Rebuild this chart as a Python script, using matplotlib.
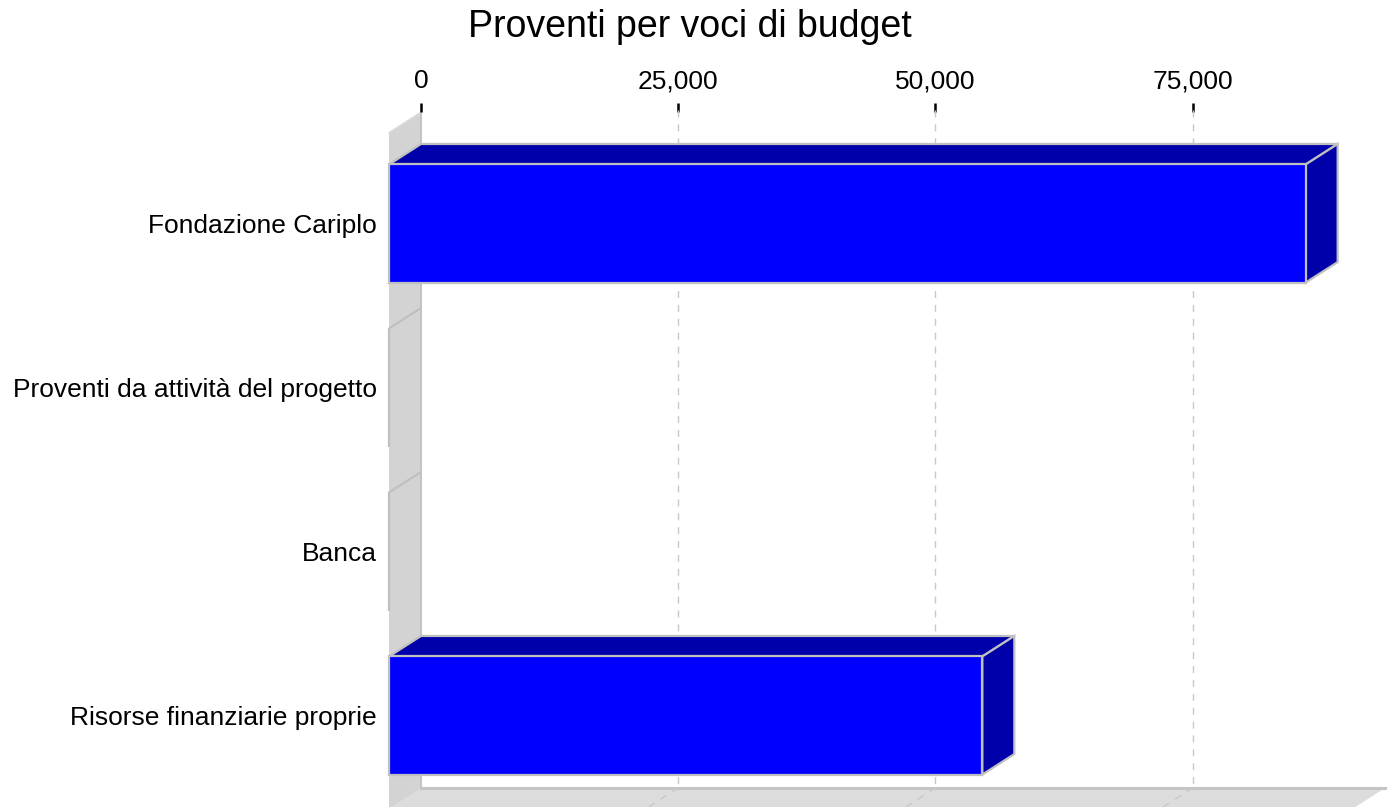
import numpy as np
import matplotlib
matplotlib.use('Agg')
from matplotlib import pyplot as plt
from matplotlib.patches import Polygon, Rectangle

plt.rcParams['font.family'] = ['Liberation Sans', 'DejaVu Sans']

# data
categories = ['Fondazione Cariplo', 'Proventi da attività del progetto', 'Banca', 'Risorse finanziarie proprie']
values = [89100, 0, 0, 57670]
ticks = [0, 25000, 50000, 75000]
title = 'Proventi per voci di budget'

# colours
front_col = '#0000ff'
side_col = '#0000aa'
edge_col = '#c0c0c0'
wall_col = '#d3d3d3'
floor_col = '#dcdcdc'

W, H = 1393, 807
fig = plt.figure(figsize=(W / 100, H / 100), dpi=100)
ax = fig.add_axes([421 / W, 1 - 788 / H, (1385 - 421) / W, (788 - 112) / H])

xmax = 93700
ytop, ybot = -0.555, 3.567
ax.set_xlim(0, xmax)
ax.set_ylim(ybot, ytop)
ax.set_frame_on(False)

# 3d depth offset, in pixels -> data units
px_x = (1385 - 421) / xmax
px_y = (788 - 112) / (ybot - ytop)
dx = -32 / px_x
dy = 20.5 / px_y
bar_h = 0.72

# left wall
ax.add_patch(Polygon([(0, ytop), (0, ybot + 0.5), (dx, ybot + 0.5 + dy), (dx, ytop + dy)],
                     closed=True, facecolor=wall_col, edgecolor='none', zorder=1, clip_on=False))
ax.plot([0, 0], [ytop, ybot], color='#c4c4c4', lw=1.5, zorder=1.5, clip_on=False)
ax.plot([0, dx], [ytop, ytop + dy], color='#dedede', lw=1, zorder=1.5, clip_on=False)

# floor
ax.add_patch(Polygon([(0, ybot), (xmax, ybot), (xmax + dx, ybot + dy), (dx, ybot + dy)],
                     closed=True, facecolor=floor_col, edgecolor='none', zorder=1, clip_on=False))
ax.plot([0, xmax], [ybot, ybot], color='#c4c4c4', lw=2.2, zorder=1.5, clip_on=False)

# grid lines on back wall and floor
for t in ticks[1:]:
    ax.plot([t, t], [ytop - 0.01, ybot], color='#c8c8c8', lw=1, ls=(0, (5, 5)), zorder=2, clip_on=False)
    ax.plot([t, t + dx], [ybot, ybot + dy], color='#c8c8c8', lw=1, ls=(0, (5, 5)), zorder=2, clip_on=False)

# bars (zero bars collapse to lines on the wall)
for i, v in enumerate(values):
    top = i - bar_h / 2
    bot = i + bar_h / 2
    ax.add_patch(Polygon([(dx, top + dy), (v + dx, top + dy), (v, top), (0, top)], closed=True,
                         facecolor=side_col, edgecolor=edge_col, lw=1.6, zorder=3, clip_on=False))
    if v > 0:
        ax.add_patch(Polygon([(v + dx, top + dy), (v, top), (v, bot), (v + dx, bot + dy)], closed=True,
                             facecolor=side_col, edgecolor=edge_col, lw=1.6, zorder=3, clip_on=False))
    ax.add_patch(Rectangle((dx, top + dy), v, bar_h, facecolor=front_col, edgecolor=edge_col,
                           lw=1.6, zorder=4, clip_on=False))

# axes
ax.xaxis.tick_top()
ax.set_xticks(ticks)
ax.set_xticklabels(['{:,}'.format(t) for t in ticks])
ax.tick_params(axis='x', length=6.5, width=1.8, color='black', pad=7, labelsize=19)
ax.set_yticks(np.arange(len(categories)) + dy)
ax.set_yticklabels(categories)
ax.tick_params(axis='y', length=0, pad=31.7, labelsize=19)

fig.text(690 / W, 1 - 27 / H, title, ha='center', va='center', fontsize=27)

fig.savefig('out.png', dpi=100)
